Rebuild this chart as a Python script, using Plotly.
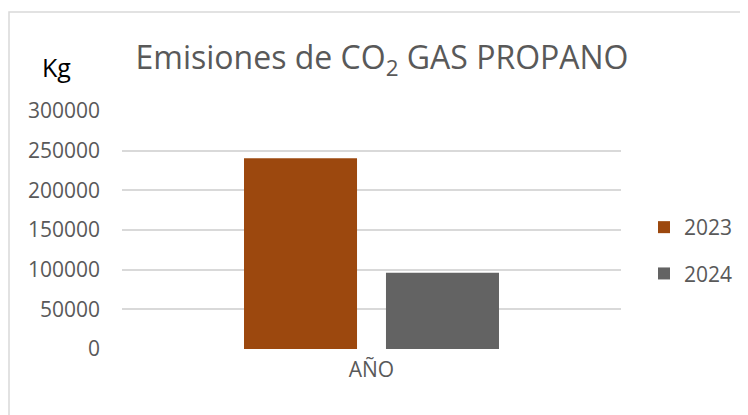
import plotly.graph_objects as go

categories = ["AÑO"]
series_names = ["2023", "2024"]
values_2023 = [240500]
values_2024 = [96000]
colors = ["#9C480E", "#636363"]
y_ticks = [0, 50000, 100000, 150000, 200000, 250000, 300000]

OFF = 8  # page body margin
W, H = 748 - OFF, 415 - OFF
L, R, T, B = 122 - OFF, 127, 111 - OFF, 66
pw, ph = W - L - R, H - T - B

def px_x(x):
    return (x - OFF - L) / pw

def px_y(y):
    return (H - B - (y - OFF)) / ph

fig = go.Figure()
for name, vals, col in zip(series_names, [values_2023, values_2024], colors):
    fig.add_trace(go.Bar(x=categories, y=vals, name=name, marker_color=col,
                         marker_line_width=0, legendgroup=name))

font_family = "Open Sans"
fig.update_layout(
    width=W, height=H,
    margin=dict(l=L, r=R, t=T, b=B, autoexpand=False),
    paper_bgcolor="white", plot_bgcolor="white",
    barmode="group", bargap=0.431, bargroupgap=0.204,
    font=dict(family=font_family, color="#595959", size=20),
    title=dict(text="Emisiones de CO<sub>2</sub> GAS PROPANO",
               x=(382 - OFF) / W, xanchor="center", y=1 - (58 - OFF) / H, yanchor="middle",
               font=dict(size=32, color="#595959", family=font_family)),
    showlegend=True,
    legend=dict(x=px_x(644), xanchor="left", y=px_y(207), yanchor="top",
                traceorder="grouped", tracegroupgap=16,
                font=dict(size=21, color="#595959"), bgcolor="rgba(0,0,0,0)"),
    xaxis=dict(showgrid=False, showline=False, zeroline=False,
               ticklabelstandoff=6,
               tickfont=dict(size=21, color="#595959")),
    yaxis=dict(range=[0, 300000], tickvals=y_ticks,
               ticktext=[str(v) for v in y_ticks],
               showgrid=True, gridcolor="#D9D9D9", gridwidth=2,
               zeroline=False, showline=False, ticklabelstandoff=21,
               tickfont=dict(size=21, color="#595959")),
)

fig.add_shape(type="rect", xref="paper", yref="paper",
              x0=px_x(9), x1=px_x(770), y0=px_y(12), y1=px_y(430),
              line=dict(color="#D9D9D9", width=1.5), layer="below")

fig.add_annotation(text="Kg", xref="paper", yref="paper",
                   x=px_x(56), y=px_y(67), xanchor="center", yanchor="middle",
                   showarrow=False, font=dict(size=25, color="#000000", family=font_family))

fig.write_html("out.html")
